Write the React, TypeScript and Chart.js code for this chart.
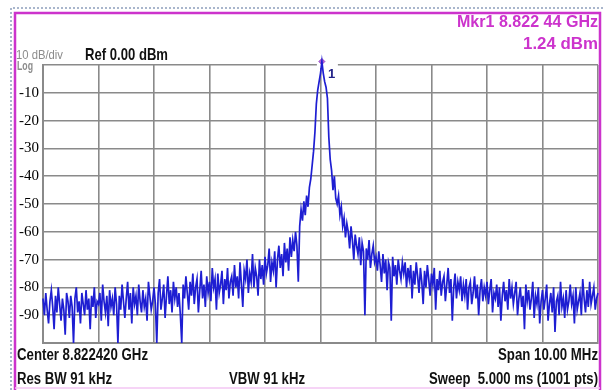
import React, { useEffect, useRef } from "react";
import { Chart, registerables } from "chart.js";

Chart.register(...registerables);

// Sweep: offset from center frequency, MHz (Span 10.00 MHz)
const START_MHZ = -5;
const STOP_MHZ = 5;

// Trace levels (dBm), 401 sweep points
const LEVELS_DBM: number[] = [
  -84, -90, -82, -88, -93, -85, -81, -87, -95, -83, -89, -80, -86, -92, -84, -88, -97, -82, -85, -91,
  -83, -87, -100, -84, -80, -89, -85, -93, -82, -86, -90, -81, -88, -84, -95, -83, -87, -80, -91, -85,
  -86, -82, -92, -79, -85, -89, -83, -94, -81, -87, -84, -90, -80, -86, -100, -83, -88, -79, -85, -91,
  -84, -78, -88, -82, -93, -80, -86, -83, -90, -79, -85, -89, -81, -87, -84, -92, -78, -83, -88, -85,
  -80, -86, -100, -82, -77, -88, -84, -79, -91, -83, -76, -86, -81, -89, -78, -84, -80, -87, -82, -90,
  -100, -79, -84, -76, -82, -88, -78, -83, -75, -86, -80, -77, -89, -81, -74, -84, -79, -87, -76, -82,
  -78, -85, -73, -80, -77, -88, -75, -82, -79, -74, -86, -77, -81, -73, -84, -78, -76, -83, -72, -80,
  -76, -84, -71, -79, -87, -74, -77, -70, -82, -75, -78, -68, -80, -73, -76, -83, -70, -77, -72, -79,
  -69, -75, -72, -66, -78, -71, -74, -67, -80, -70, -65, -73, -68, -76, -64, -71, -66, -74, -62, -69,
  -63, -67, -60, -65, -78, -58, -52, -56, -49, -54, -47, -51, -44, -41, -36, -31, -24, -14, -9, -6,
  -3, 1.24, -3, -6, -8, -12, -26, -34, -38, -45, -40, -48, -50, -47, -54, -51, -58, -55, -62, -57,
  -60, -66, -58, -63, -70, -61, -65, -68, -62, -72, -64, -67, -90, -66, -70, -63, -73, -68, -65, -71,
  -69, -74, -67, -72, -78, -68, -75, -70, -81, -71, -73, -92, -69, -76, -72, -79, -70, -74, -77, -71,
  -75, -71, -80, -73, -77, -72, -84, -74, -79, -71, -76, -82, -73, -78, -86, -74, -80, -72, -77, -83,
  -75, -79, -73, -88, -77, -81, -74, -83, -78, -76, -85, -79, -73, -82, -77, -92, -80, -75, -84, -78,
  -81, -76, -85, -79, -83, -77, -88, -80, -78, -86, -82, -76, -84, -79, -90, -81, -77, -85, -80, -83,
  -78, -86, -81, -77, -89, -82, -84, -79, -87, -80, -92, -83, -78, -85, -81, -88, -77, -84, -80, -86,
  -82, -78, -90, -84, -80, -87, -83, -95, -79, -85, -81, -88, -84, -78, -91, -83, -86, -80, -93, -85,
  -81, -88, -84, -79, -92, -86, -82, -89, -80, -96, -85, -83, -90, -78, -87, -84, -91, -81, -88, -85,
  -79, -86, -83, -93, -80, -88, -85, -82, -90, -77, -84, -89, -81, -87, -78, -86, -83, -80, -88, -84,
  -82,
];

// Y axis: Ref 0.00 dBm, 10 dB/div
const Y_MAX = 0;
const Y_MIN = -100;
const Y_STEP = 10;

// Marker 1
const MARKER_LABEL = "1";
const MARKER_TEXT = "Mkr1 8.822 44 GHz";
const MARKER_LEVEL_TEXT = "1.24 dBm";

const HEADER_SCALE = "10 dB/div";
const HEADER_REF = "Ref 0.00 dBm";
const HEADER_LOG = "Log";
const FOOTER_CENTER = "Center 8.822420 GHz";
const FOOTER_SPAN = "Span 10.00 MHz";
const FOOTER_RBW = "Res BW 91 kHz";
const FOOTER_VBW = "VBW 91 kHz";
const FOOTER_SWEEP = "Sweep  5.000 ms (1001 pts)";

const MAGENTA = "#cc33cc";
const GRID = "#8a8a8a";
const TRACE = "#1e1ed2";

function fitText(
  ctx: CanvasRenderingContext2D,
  text: string,
  x: number,
  y: number,
  font: string,
  color: string,
  width: number,
  align: "left" | "right"
) {
  ctx.save();
  ctx.font = font;
  ctx.fillStyle = color;
  ctx.textBaseline = "alphabetic";
  ctx.textAlign = "left";
  const w = ctx.measureText(text).width;
  const sx = width / w;
  const startX = align === "left" ? x : x - width;
  ctx.translate(startX, y);
  ctx.scale(sx, 1);
  ctx.fillText(text, 0, 0);
  ctx.restore();
}

function peakFreq(): number {
  const peakIdx = LEVELS_DBM.indexOf(Math.max(...LEVELS_DBM));
  return START_MHZ + ((STOP_MHZ - START_MHZ) * peakIdx) / (LEVELS_DBM.length - 1);
}

const decorPlugin = {
  id: "decor",
  beforeDraw(chart: any) {
    const ctx = chart.ctx as CanvasRenderingContext2D;
    ctx.save();
    ctx.fillStyle = "#ffffff";
    ctx.fillRect(0, 0, chart.width, chart.height);
    ctx.restore();
  },
  beforeDatasetsDraw(chart: any) {
    const ctx = chart.ctx as CanvasRenderingContext2D;
    const px = chart.scales.x.getPixelForValue(peakFreq());
    const top = chart.scales.y.getPixelForValue(Y_MAX);
    ctx.save();
    ctx.fillStyle = "#ffffff";
    ctx.fillRect(px - 5, top - 3, 21, 6);
    ctx.restore();
  },
  afterDraw(chart: any) {
    const ctx = chart.ctx as CanvasRenderingContext2D;
    const W = chart.width;
    const H = chart.height;
    const sans = '"Liberation Sans", Arial, sans-serif';

    // outer dotted frame
    ctx.save();
    ctx.strokeStyle = "#a9b6cc";
    ctx.lineWidth = 2;
    ctx.setLineDash([2, 2]);
    ctx.beginPath();
    ctx.moveTo(11, H);
    ctx.lineTo(11, 8);
    ctx.lineTo(W, 8);
    ctx.stroke();
    ctx.restore();

    // magenta frame
    ctx.save();
    ctx.strokeStyle = MAGENTA;
    ctx.lineWidth = 2.5;
    ctx.beginPath();
    ctx.moveTo(15, H);
    ctx.lineTo(15, 13);
    ctx.lineTo(600, 13);
    ctx.lineTo(600, H);
    ctx.stroke();
    ctx.strokeStyle = "#f3c6f3";
    ctx.lineWidth = 1.5;
    ctx.beginPath();
    ctx.moveTo(15, 388);
    ctx.lineTo(600, 388);
    ctx.stroke();
    ctx.restore();

    // header
    fitText(ctx, MARKER_TEXT, 598, 27, `bold 17px ${sans}`, MAGENTA, 141, "right");
    fitText(ctx, MARKER_LEVEL_TEXT, 598, 49, `bold 17px ${sans}`, MAGENTA, 75, "right");
    fitText(ctx, HEADER_SCALE, 16, 59, `12px ${sans}`, "#8c8c8c", 47, "left");
    fitText(ctx, HEADER_REF, 85, 60, `bold 17px ${sans}`, "#111111", 83, "left");
    fitText(ctx, HEADER_LOG, 17, 70, `bold 12px ${sans}`, "#8c8c8c", 16, "left");

    // footer
    fitText(ctx, FOOTER_CENTER, 17, 360, `bold 16px ${sans}`, "#111111", 131, "left");
    fitText(ctx, FOOTER_SPAN, 598, 360, `bold 16px ${sans}`, "#111111", 100, "right");
    fitText(ctx, FOOTER_RBW, 17, 384, `bold 16px ${sans}`, "#111111", 95, "left");
    fitText(ctx, FOOTER_VBW, 229, 384, `bold 16px ${sans}`, "#111111", 76, "left");
    fitText(ctx, FOOTER_SWEEP, 598, 384, `bold 16px ${sans}`, "#111111", 169, "right");

    // marker label
    const px = chart.scales.x.getPixelForValue(peakFreq());
    ctx.save();
    ctx.font = `bold 13px ${sans}`;
    ctx.fillStyle = "#222288";
    ctx.textAlign = "left";
    ctx.textBaseline = "alphabetic";
    ctx.fillText(MARKER_LABEL, px + 6, 78);
    ctx.restore();
  },
};

export default function App() {
  const ref = useRef<HTMLCanvasElement | null>(null);

  useEffect(() => {
    if (!ref.current) return;
    const n = LEVELS_DBM.length;
    const points = LEVELS_DBM.map((v, i) => ({
      x: START_MHZ + ((STOP_MHZ - START_MHZ) * i) / (n - 1),
      y: v,
    }));
    const peakIdx = LEVELS_DBM.indexOf(Math.max(...LEVELS_DBM));
    const marker = [points[peakIdx]];

    const chart = new Chart(ref.current, {
      type: "line",
      data: {
        datasets: [
          {
            data: points,
            borderColor: TRACE,
            borderWidth: 1.7,
            pointRadius: 0,
            tension: 0,
            clip: false as any,
          },
          {
            data: marker,
            showLine: false,
            pointStyle: "rectRot",
            pointRadius: 3,
            backgroundColor: "#b060d8",
            borderColor: "#9040c0",
            borderWidth: 1,
            clip: false as any,
          },
        ],
      },
      options: {
        animation: false,
        responsive: false,
        devicePixelRatio: 1,
        events: [],
        layout: { padding: { left: 0, top: 65, right: 7, bottom: 47 } },
        plugins: {
          legend: { display: false },
          tooltip: { enabled: false },
        },
        scales: {
          x: {
            type: "linear",
            min: START_MHZ,
            max: STOP_MHZ,
            ticks: { display: false, stepSize: 1 },
            grid: { color: GRID, lineWidth: 1.6, drawTicks: false },
            border: { display: true, color: GRID, width: 2 },
            afterFit: (s: any) => {
              s.height = 0;
            },
          },
          y: {
            type: "linear",
            min: Y_MIN,
            max: Y_MAX,
            ticks: {
              stepSize: Y_STEP,
              autoSkip: false,
              padding: 4,
              color: "#000000",
              font: { family: '"Liberation Serif", "Times New Roman", serif', size: 15 },
              callback: (v: any) => (v === Y_MAX || v === Y_MIN ? "" : String(v)),
            },
            grid: { color: GRID, lineWidth: 1.6, drawTicks: false },
            border: { display: true, color: GRID, width: 2 },
            afterFit: (s: any) => {
              s.width = 43;
            },
          },
        },
      },
      plugins: [decorPlugin],
    });
    return () => chart.destroy();
  }, []);

  return (
    <div style={{ position: "absolute", left: 0, top: 0, width: 605, height: 390, background: "#fff" }}>
      <canvas ref={ref} width={605} height={390} style={{ display: "block" }} />
    </div>
  );
}
